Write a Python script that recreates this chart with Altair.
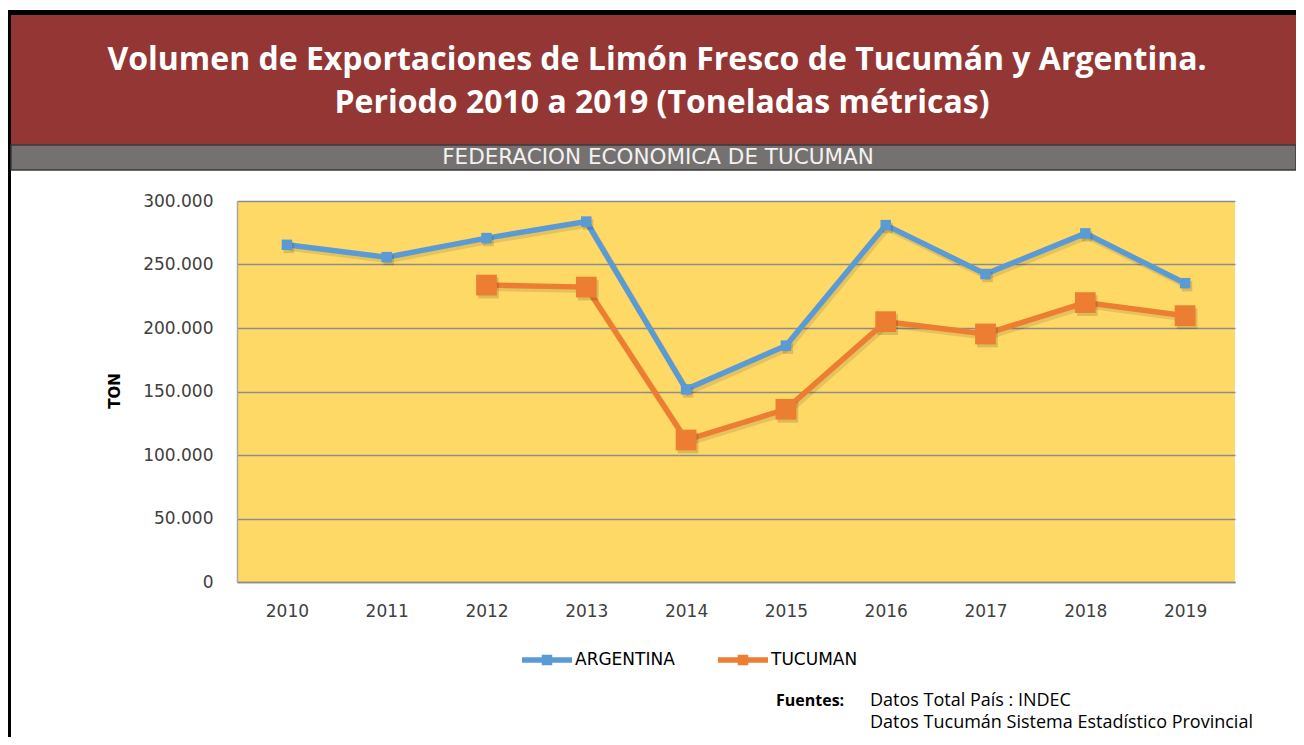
import altair as alt
import pandas as pd

# ---- data ----
years = ["2010", "2011", "2012", "2013", "2014", "2015", "2016", "2017", "2018", "2019"]
argentina = [265500, 255800, 270800, 283800, 151700, 186100, 281000, 242500, 274500, 235300]
tucuman = [None, None, 233800, 232200, 111800, 136000, 205000, 195300, 220000, 209700]
series = ["ARGENTINA", "TUCUMAN"]
colors = ["#5B9BD5", "#ED7D31"]
marker_sizes = [110, 430]
y_ticks = [0, 50000, 100000, 150000, 200000, 250000, 300000]

title_1 = "Volumen  de Exportaciones  de Limón Fresco de Tucumán  y Argentina."
title_2 = "Periodo 2010 a 2019 (Toneladas métricas)"
band_text = "FEDERACION ECONOMICA DE TUCUMAN"
y_title = "TON"
src_label = "Fuentes:"
src_1 = "Datos Total País : INDEC"
src_2 = "Datos Tucumán Sistema Estadístico Provincial"

rows = []
for yr, a, t in zip(years, argentina, tucuman):
    rows.append({"year": yr, "serie": "ARGENTINA", "ton": a})
    if t is not None:
        rows.append({"year": yr, "serie": "TUCUMAN", "ton": t})
df = pd.DataFrame(rows)
deco = pd.DataFrame({"k": [0]})

# ---- layout ----
W, H = 998, 381
PAD = {"left": 229, "top": 193, "right": 61, "bottom": 155}
RED = "#943634"
GRAY = "#767171"
TXT = "#404040"

x_enc = alt.X(
    "year:O",
    scale=alt.Scale(domain=years),
    axis=alt.Axis(
        title=None, labelAngle=0, ticks=False, grid=False,
        domainColor="#8C8C8C", domainWidth=1.5,
        labelFont="DejaVu Sans", labelFontSize=17, labelColor=TXT, labelPadding=21,
    ),
)
y_enc = alt.Y(
    "ton:Q",
    scale=alt.Scale(domain=[0, 300000], nice=False),
    axis=alt.Axis(
        title=None, values=y_ticks, ticks=False, grid=True,
        gridColor="#8C8C8C", gridWidth=1.5, domainColor="#A6A6A6", domainWidth=1.5,
        labelExpr="datum.value == 0 ? '0' : format(datum.value / 1000, '.3f')",
        labelFont="DejaVu Sans", labelFontSize=17, labelColor=TXT, labelPadding=24,
    ),
)
color_scale = alt.Scale(domain=series, range=colors)
legend_path = "M-1,-0.11H1V0.11H-1Z M-0.21,-0.21H0.21V0.21H-0.21Z"
legend = alt.Legend(
    title=None, orient="none", legendX=285, legendY=434, direction="horizontal",
    symbolType=legend_path, symbolSize=2500, symbolStrokeWidth=0, symbolOpacity=1,
    labelFont="DejaVu Sans", labelFontSize=17, labelColor="#000000", labelOffset=3,
    columnPadding=43, padding=0,
)
color_enc = alt.Color("serie:N", scale=color_scale, legend=legend)

base = alt.Chart(df)

line_shadow = base.mark_line(color="#000000", opacity=0.10, strokeWidth=6, xOffset=2, yOffset=3).encode(
    x=x_enc, y=y_enc, detail="serie:N"
)
lines = base.mark_line(strokeWidth=5.5).encode(x=x_enc, y=y_enc, color=color_enc)

point_layers = []
for s, sz in zip(series, marker_sizes):
    sub = base.transform_filter(alt.datum.serie == s)
    point_layers.append(
        sub.mark_square(color="#000000", opacity=0.14, size=sz, xOffset=2, yOffset=3).encode(x=x_enc, y=y_enc)
    )
    point_layers.append(
        sub.mark_square(opacity=1, size=sz).encode(x=x_enc, y=y_enc, color=color_enc)
    )


def rect(x1, x2, y1, y2, fill, stroke=None, sw=0):
    kw = {"color": fill}
    if stroke:
        kw.update(stroke=stroke, strokeWidth=sw)
    return alt.Chart(deco).mark_rect(**kw).encode(
        x=alt.value(x1), x2=alt.value(x2), y=alt.value(y1), y2=alt.value(y2)
    )


def text(t, x, y, size, font="Open Sans", weight="normal", color="#000000", align="center", angle=0):
    kw = dict(text=t, font=font, fontSize=size, fontWeight=weight, color=color,
              align=align, baseline="middle")
    if angle:
        kw["angle"] = angle
    return alt.Chart(deco).mark_text(**kw).encode(x=alt.value(x), y=alt.value(y))


decor = [
    rect(-229, 1059, -191, -186, "#000000"),           # top black border
    rect(-229, -226, -191, 536, "#000000"),            # left black border
    rect(-226, 1059, -186, -56, RED),                  # title banner
    rect(-226, 1059, -56, -31, GRAY, "#3A3A3A", 1.5),  # sub band
    text(title_1, 420, -141, 32, weight="bold", color="#FFFFFF"),
    text(title_2, 425, -98, 32, weight="bold", color="#FFFFFF"),
    text(band_text, 421, -43, 21.5, font="DejaVu Sans", color="#F2F2F2"),
    text(y_title, -122, 190, 15, font="DejaVu Sans", weight="bold", angle=270),
    text(src_label, 539, 500, 16, weight="bold", align="left"),
    text(src_1, 633, 500, 18, align="left"),
    text(src_2, 633, 522, 18, align="left"),
]

chart = alt.layer(
    *decor, line_shadow, lines, *point_layers
).properties(
    width=W, height=H, padding=PAD,
    autosize=alt.AutoSizeParams(type="none"),
    background="#FFFFFF",
).configure_view(
    fill="#FFD966", stroke=None
)

chart.save("out.html", embed_options={"renderer": "svg", "actions": False})
